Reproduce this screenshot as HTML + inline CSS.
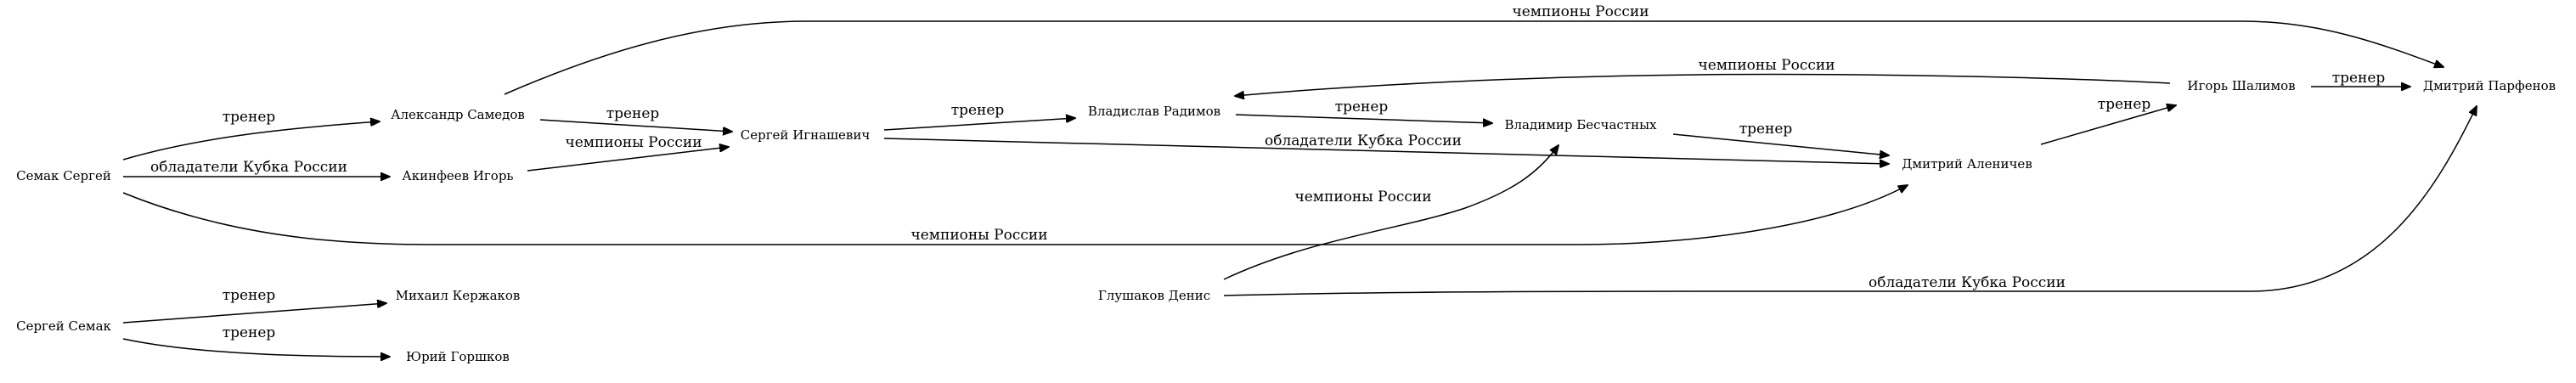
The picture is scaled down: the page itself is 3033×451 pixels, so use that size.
<!DOCTYPE html>
<html><head><meta charset="utf-8"><style>
html,body{margin:0;padding:0;background:#fff;width:3033px;height:451px;overflow:hidden}
svg{display:block}
text{font-family:"DejaVu Serif","Liberation Serif",serif;fill:#000}
.n{font-size:15px;text-anchor:middle}
.e{font-size:17px;text-anchor:middle}
path{fill:none;stroke:#000;stroke-width:1.5}
</style></head><body>
<svg width="3033" height="451" viewBox="0 0 3033 451" xmlns="http://www.w3.org/2000/svg">
<defs><marker id="a" markerWidth="12" markerHeight="10" refX="11" refY="5" orient="auto" markerUnits="userSpaceOnUse"><path d="M0,0 L12,5 L0,10 Z" style="fill:#000;stroke:#000;stroke-width:1"/></marker></defs>

<text class="n" x="75" y="212">Семак Сергей</text>
<text class="n" x="539" y="140">Александр Самедов</text>
<text class="n" x="539" y="212">Акинфеев Игорь</text>
<text class="n" x="948" y="164">Сергей Игнашевич</text>
<text class="n" x="539" y="353">Михаил Кержаков</text>
<text class="n" x="75" y="389">Сергей Семак</text>
<text class="n" x="539" y="425">Юрий Горшков</text>
<text class="n" x="1359" y="136">Владислав Радимов</text>
<text class="n" x="1861" y="152">Владимир Бесчастных</text>
<text class="n" x="1359" y="353">Глушаков Денис</text>
<text class="n" x="2316" y="198">Дмитрий Аленичев</text>
<text class="n" x="2639" y="106">Игорь Шалимов</text>
<text class="n" x="2931" y="106">Дмитрий Парфенов</text>

<path d="M145,188 C240,160 350,150 447,143" marker-end="url(#a)"/>
<text class="e" x="293" y="143">тренер</text>
<path d="M145,208 L459,208" marker-end="url(#a)"/>
<text class="e" x="293" y="202">обладатели Кубка России</text>
<path d="M145,227 C300,290 450,288 540,288 L1860,288 C1980,288 2150,270 2246,218" marker-end="url(#a)"/>
<text class="e" x="1153" y="282">чемпионы России</text>
<path d="M636,141 L862,155" marker-end="url(#a)"/>
<text class="e" x="745" y="139">тренер</text>
<path d="M621,201 L858,173" marker-end="url(#a)"/>
<text class="e" x="746" y="173">чемпионы России</text>
<path d="M594,111 C700,65 820,25 950,25 L2640,25 C2730,25 2800,50 2877,79" marker-end="url(#a)"/>
<text class="e" x="1861" y="19">чемпионы России</text>
<path d="M1041,153 L1266,139" marker-end="url(#a)"/>
<text class="e" x="1151" y="135">тренер</text>
<path d="M1041,163 L2224,193" marker-end="url(#a)"/>
<text class="e" x="1605" y="171">обладатели Кубка России</text>
<path d="M1455,135 L1757,145" marker-end="url(#a)"/>
<text class="e" x="1603" y="131">тренер</text>
<path d="M1970,158 L2224,183" marker-end="url(#a)"/>
<text class="e" x="2079" y="157">тренер</text>
<path d="M2555,98 C2400,90 2150,86 2000,88 C1800,90 1600,100 1454,113" marker-end="url(#a)"/>
<text class="e" x="2080" y="82">чемпионы России</text>
<path d="M1441,329 C1540,282 1650,270 1725,245 C1780,225 1810,205 1835,171" marker-end="url(#a)"/>
<text class="e" x="1605" y="237">чемпионы России</text>
<path d="M1441,348 C1600,344 1800,343 2000,343 L2649,343 C2800,343 2870,220 2916,125" marker-end="url(#a)"/>
<text class="e" x="2316" y="338">обладатели Кубка России</text>
<path d="M2403,170 L2562,124" marker-end="url(#a)"/>
<text class="e" x="2501" y="128">тренер</text>
<path d="M2721,102 L2838,102" marker-end="url(#a)"/>
<text class="e" x="2777" y="97">тренер</text>
<path d="M145,380 L455,357" marker-end="url(#a)"/>
<text class="e" x="293" y="353">тренер</text>
<path d="M145,399 C220,415 330,420 459,420" marker-end="url(#a)"/>
<text class="e" x="293" y="397">тренер</text>
</svg>
</body></html>
